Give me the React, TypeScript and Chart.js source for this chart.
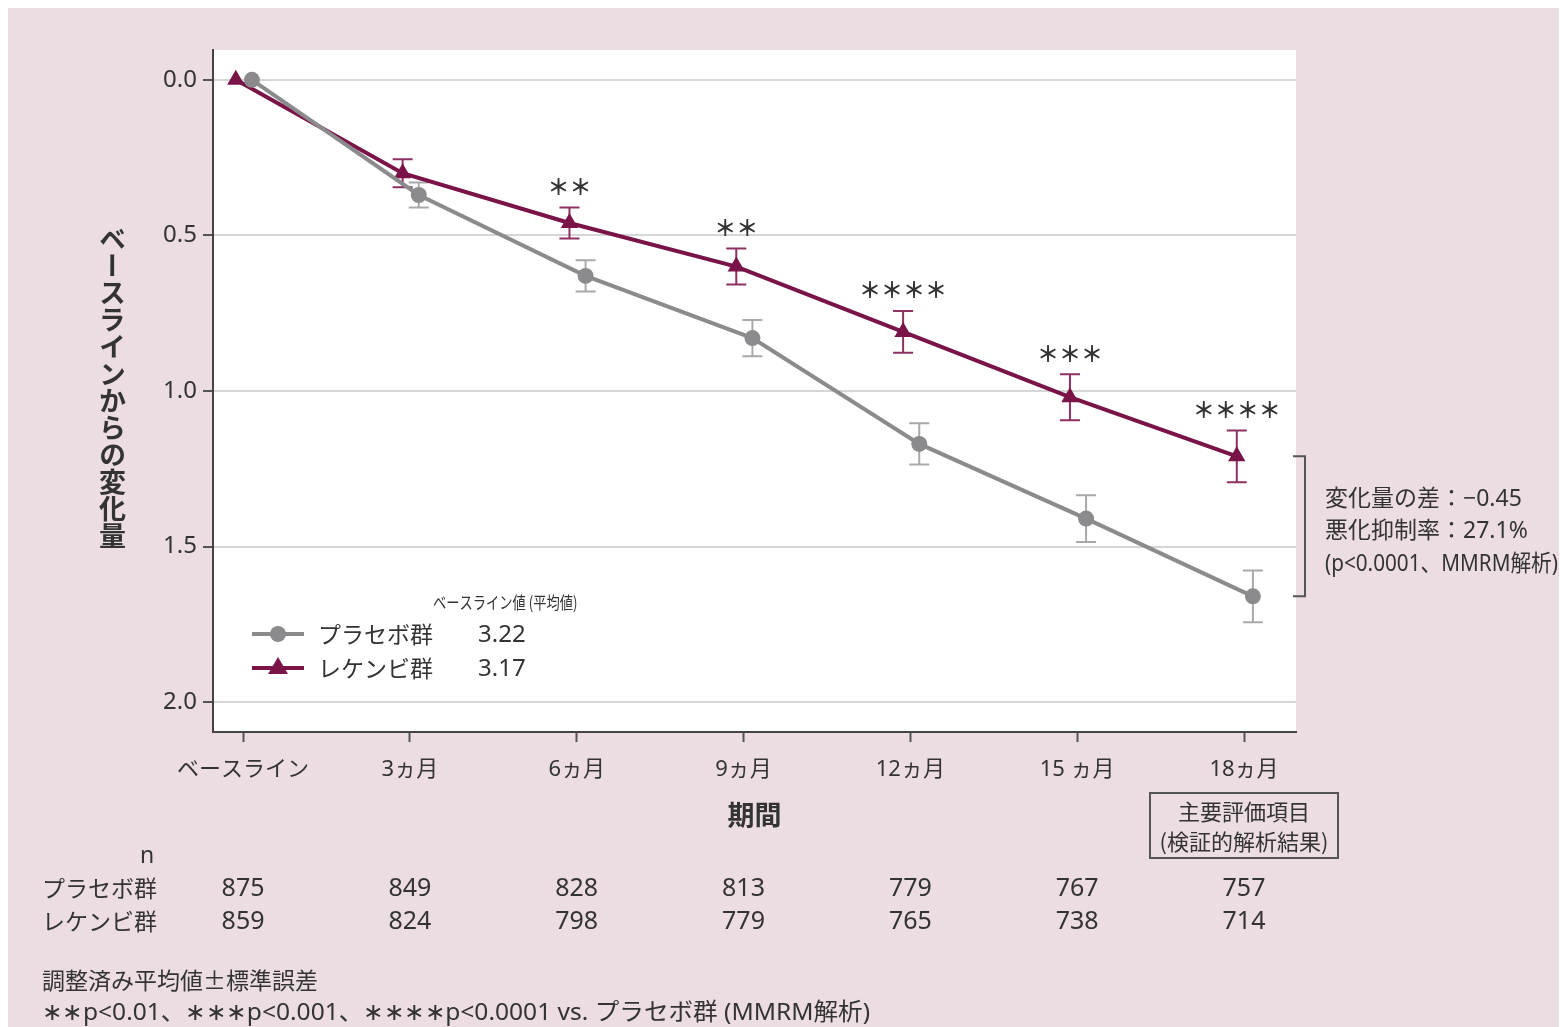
import React, { useEffect, useRef } from "react";
import { Chart, registerables } from "chart.js";

Chart.register(...registerables);

// ---------- data ----------
const months = [0, 3, 6, 9, 12, 15, 18];
const xTickLabels = ["ベースライン", "3ヵ月", "6ヵ月", "9ヵ月", "12ヵ月", "15 ヵ月", "18ヵ月"];
const yTickValues = [0, 0.5, 1, 1.5, 2];

const placeboMean = [0, 0.37, 0.63, 0.83, 1.17, 1.41, 1.66];
const placeboSE = [0, 0.04, 0.05, 0.058, 0.066, 0.075, 0.083];
const lecMean = [0, 0.3, 0.46, 0.6, 0.81, 1.02, 1.21];
const lecSE = [0, 0.045, 0.05, 0.058, 0.067, 0.074, 0.083];
const significance = ["", "", "＊＊", "＊＊", "＊＊＊＊", "＊＊＊", "＊＊＊＊"];

const nPlacebo = [875, 849, 828, 813, 779, 767, 757];
const nLec = [859, 824, 798, 779, 765, 738, 714];

const placeboName = "プラセボ群";
const lecName = "レケンビ群";
const baselineValues = ["3.22", "3.17"];
const legendTitle = "ベースライン値 (平均値)";
const diffLines = ["変化量の差：−0.45", "悪化抑制率：27.1%", "(p<0.0001、MMRM解析)"];
const boxLines = ["主要評価項目", "(検証的解析結果)"];
const footnotes = [
  "調整済み平均値±標準誤差",
  "∗∗p<0.01、∗∗∗p<0.001、∗∗∗∗p<0.0001 vs. プラセボ群 (MMRM解析)",
];

// dodge offsets (months) used in the original figure
const placeboDodge = 0.16;
const lecDodge = -0.13;

// ---------- style ----------
const FONT = '"Noto Sans", "Noto Sans CJK JP", sans-serif';
const CJK = '"Noto Sans CJK JP", "Noto Sans", sans-serif';
const TEXT = "#333333";
const GREY = "#8b8b8d";
const GREY_ERR = "#a9a9a9";
const MAROON = "#7a1448";
const MAROON_ERR = "#8e3062";
const BG = "#ebdde2";

const W = 1559;
const H = 1023;
const X_AXIS_H = 70;

function fitText(ctx: CanvasRenderingContext2D, text: string, x: number, y: number, targetW: number, stretch = false) {
  const w = ctx.measureText(text).width;
  if (w <= targetW && !stretch) {
    ctx.fillText(text, x, y);
    return;
  }
  ctx.save();
  ctx.translate(x, y);
  ctx.scale(targetW / w, 1);
  ctx.fillText(text, 0, 0);
  ctx.restore();
}

const overlayPlugin = {
  id: "overlay",
  beforeDatasetsDraw(chart: any) {
    const ctx = chart.ctx;
    const xs = chart.scales.x;
    const ys = chart.scales.y;
    const drawBars = (mean: number[], se: number[], dodge: number, color: string) => {
      ctx.save();
      ctx.strokeStyle = color;
      ctx.lineWidth = 2;
      months.forEach((m, i) => {
        if (se[i] <= 0) return;
        const x = xs.getPixelForValue(m + dodge);
        const y1 = ys.getPixelForValue(mean[i] - se[i]);
        const y2 = ys.getPixelForValue(mean[i] + se[i]);
        ctx.beginPath();
        ctx.moveTo(x, y1);
        ctx.lineTo(x, y2);
        ctx.moveTo(x - 10, y1);
        ctx.lineTo(x + 10, y1);
        ctx.moveTo(x - 10, y2);
        ctx.lineTo(x + 10, y2);
        ctx.stroke();
      });
      ctx.restore();
    };
    drawBars(placeboMean, placeboSE, placeboDodge, GREY_ERR);
    drawBars(lecMean, lecSE, lecDodge, MAROON_ERR);
  },
  afterDraw(chart: any) {
    const ctx = chart.ctx;
    const xs = chart.scales.x;
    const ys = chart.scales.y;
    const area = chart.chartArea;
    ctx.save();
    ctx.fillStyle = TEXT;

    // significance asterisks
    ctx.font = `bold 22px ${CJK}`;
    ctx.textAlign = "center";
    ctx.textBaseline = "middle";
    months.forEach((m, i) => {
      if (!significance[i]) return;
      const x = xs.getPixelForValue(m + lecDodge);
      const y = ys.getPixelForValue(lecMean[i] - lecSE[i]) - 21;
      ctx.fillText(significance[i], x, y);
    });

    // legend
    ctx.save();
    ctx.translate(425, 599);
    ctx.scale(0.78, 1);
    ctx.font = `17px ${CJK}`;
    ctx.textAlign = "left";
    ctx.fillText(legendTitle, 0, 0);
    ctx.restore();

    const legendRows = [
      { name: placeboName, val: baselineValues[0], color: GREY, y: 630, shape: "circle" },
      { name: lecName, val: baselineValues[1], color: MAROON, y: 664, shape: "triangle" },
    ];
    legendRows.forEach((r) => {
      ctx.strokeStyle = r.color;
      ctx.fillStyle = r.color;
      ctx.lineWidth = 4;
      ctx.beginPath();
      ctx.moveTo(244, r.y);
      ctx.lineTo(296, r.y);
      ctx.stroke();
      ctx.beginPath();
      if (r.shape === "circle") {
        ctx.arc(270, r.y, 8, 0, Math.PI * 2);
      } else {
        ctx.moveTo(270, r.y - 11);
        ctx.lineTo(280, r.y + 6);
        ctx.lineTo(260, r.y + 6);
        ctx.closePath();
      }
      ctx.fill();
      ctx.fillStyle = TEXT;
      ctx.font = `23px ${CJK}`;
      ctx.textAlign = "left";
      ctx.fillText(r.name, 310, r.y);
      ctx.font = `24px ${FONT}`;
      ctx.fillText(r.val, 470, r.y + 1);
    });

    // bracket for the difference at 18 months
    const yTop = ys.getPixelForValue(lecMean[6]);
    const yBot = ys.getPixelForValue(placeboMean[6]);
    const bx = area.right + 9;
    ctx.strokeStyle = "#555";
    ctx.lineWidth = 2;
    ctx.beginPath();
    ctx.moveTo(bx - 12, yTop);
    ctx.lineTo(bx, yTop);
    ctx.lineTo(bx, yBot);
    ctx.lineTo(bx - 12, yBot);
    ctx.stroke();
    ctx.fillStyle = TEXT;
    ctx.font = `23px ${FONT}`;
    ctx.textAlign = "left";
    const maxW = [206, 210, 233];
    diffLines.forEach((t, i) => fitText(ctx, t, bx + 20, 495 + i * 32.5, maxW[i]));

    // x axis title
    ctx.font = `bold 27px ${CJK}`;
    ctx.textAlign = "center";
    ctx.fillText("期間", (area.left + area.right) / 2, 811);

    // primary endpoint box
    const cx = xs.getPixelForValue(18);
    ctx.strokeStyle = "#555";
    ctx.lineWidth = 2;
    ctx.strokeRect(cx - 94, 789, 188, 65);
    ctx.font = `22px ${CJK}`;
    ctx.fillText(boxLines[0], cx, 808);
    ctx.fillText(boxLines[1], cx, 838);

    // n table
    ctx.font = `23px ${FONT}`;
    ctx.fillText("n", 139, 852);
    ctx.textAlign = "left";
    ctx.font = `23px ${CJK}`;
    ctx.fillText(placeboName, 34, 884);
    ctx.fillText(lecName, 34, 917);
    ctx.textAlign = "center";
    ctx.font = `25px ${FONT}`;
    months.forEach((m, i) => {
      const x = xs.getPixelForValue(m);
      ctx.fillText(String(nPlacebo[i]), x, 885);
      ctx.fillText(String(nLec[i]), x, 918);
    });

    // footnotes
    ctx.textAlign = "left";
    ctx.font = `23px ${CJK}`;
    ctx.fillText(footnotes[0], 34, 976);
    ctx.font = `24px ${FONT}`;
    fitText(ctx, footnotes[1], 34, 1009, 828, true);

    ctx.restore();
  },
};

const whiteAreaPlugin = {
  id: "whiteArea",
  beforeDraw(chart: any) {
    const { ctx, chartArea } = chart;
    ctx.save();
    ctx.fillStyle = "#ffffff";
    ctx.fillRect(chartArea.left, chartArea.top, chartArea.right - chartArea.left, chartArea.bottom - chartArea.top);
    ctx.restore();
  },
};

export default function App() {
  const ref = useRef<HTMLCanvasElement | null>(null);

  useEffect(() => {
    if (!ref.current) return;
    const chart = new Chart(ref.current, {
      type: "line",
      data: {
        datasets: [
          {
            label: placeboName,
            data: months.map((m, i) => ({ x: m + placeboDodge, y: placeboMean[i] })),
            borderColor: GREY,
            backgroundColor: GREY,
            borderWidth: 4,
            pointStyle: "circle",
            pointRadius: 8,
            pointBorderWidth: 0,
          },
          {
            label: lecName,
            data: months.map((m, i) => ({ x: m + lecDodge, y: lecMean[i] })),
            borderColor: MAROON,
            backgroundColor: MAROON,
            borderWidth: 4,
            pointStyle: "triangle",
            pointRadius: 10,
            pointBorderWidth: 0,
          },
        ],
      },
      options: {
        responsive: false,
        animation: false,
        layout: { padding: { top: 46, left: 0, right: 271, bottom: H - 728 - X_AXIS_H } },
        plugins: { legend: { display: false }, tooltip: { enabled: false } },
        scales: {
          x: {
            type: "linear",
            min: -0.54,
            max: 18.935,
            afterBuildTicks: (s: any) => {
              s.ticks = months.map((v) => ({ value: v }));
            },
            afterFit: (s: any) => {
              s.height = X_AXIS_H;
            },
            ticks: {
              callback: (v: any) => xTickLabels[months.indexOf(Number(v))] ?? "",
              color: TEXT,
              font: { family: FONT, size: 22 },
              padding: 15,
              maxRotation: 0,
              autoSkip: false,
            },
            grid: { drawOnChartArea: false, tickLength: 10, tickColor: "#555", tickWidth: 2 },
            border: { display: true, color: "#444", width: 2 },
          },
          y: {
            type: "linear",
            reverse: true,
            min: -0.096,
            max: 2.096,
            afterBuildTicks: (s: any) => {
              s.ticks = yTickValues.map((v) => ({ value: v }));
            },
            afterFit: (s: any) => {
              s.width = 205;
            },
            ticks: {
              callback: (v: any) => Number(v).toFixed(1),
              color: TEXT,
              font: { family: FONT, size: 24 },
              padding: 6,
            },
            grid: { color: "#d6d6d6", lineWidth: 2, tickLength: 10, tickColor: "#555", tickWidth: 2 },
            border: { display: true, color: "#444", width: 2 },
          },
        },
      },
      plugins: [whiteAreaPlugin, overlayPlugin],
    } as any);
    return () => chart.destroy();
  }, []);

  return (
    <div style={{ position: "relative", width: W, height: H, marginTop: -4, background: BG }}>
      <canvas ref={ref} width={W} height={H} style={{ display: "block", width: W, height: H }} />
      <div
        style={{
          position: "absolute",
          left: 90,
          top: 221,
          writingMode: "vertical-rl",
          fontFamily: CJK,
          fontWeight: "bold",
          fontSize: 27,
          lineHeight: "28px",
          color: TEXT,
          whiteSpace: "nowrap",
        }}
      >
        ベースラインからの変化量
      </div>
    </div>
  );
}
